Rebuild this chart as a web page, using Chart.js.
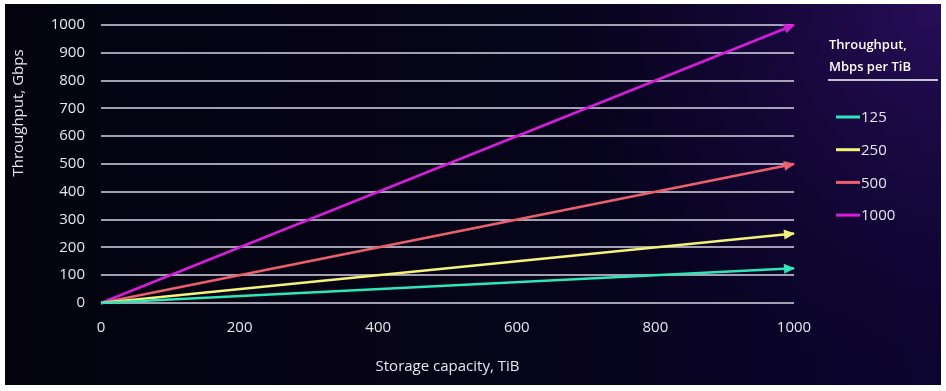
<!DOCTYPE html>
<html>
<head>
<meta charset="utf-8">
<script src="https://cdn.jsdelivr.net/npm/chart.js@4/dist/chart.umd.min.js"></script>
<style>
  html, body { margin: 0; padding: 0; background: #fff; }
  #wrap { width: 946px; height: 391px; }
</style>
</head>
<body>
<div id="wrap"><canvas id="throughputChart" width="946" height="391"></canvas></div>
<script>
// Data
const capacity = [0, 1000];            // Storage capacity, TiB
const rates = ['125', '250', '500', '1000']; // Mbps per TiB (legend labels)
const tput125 = [0, 125];              // Gbps
const tput250 = [0, 250];
const tput500 = [0, 500];
const tput1000 = [0, 1000];
const lineColors = ['#2ee6b6', '#f3f27a', '#ee5f6d', '#d51ddb'];

const textColor = '#e6e6ee';
const fontFamily = '"Open Sans", "DejaVu Sans", sans-serif';

function pts(values) {
  return capacity.map((c, i) => ({ x: c, y: values[i] }));
}

// dark gradient panel behind everything
const panelBackground = {
  id: 'panelBackground',
  beforeDraw(chart) {
    const ctx = chart.ctx;
    const x0 = 5, y0 = 4, x1 = 941, y1 = 385;
    ctx.save();
    const lin = ctx.createLinearGradient(x0, 0, x1, 0);
    lin.addColorStop(0, '#04030f');
    lin.addColorStop(0.55, '#060418');
    lin.addColorStop(1, '#0c0432');
    ctx.fillStyle = lin;
    ctx.fillRect(x0, y0, x1 - x0, y1 - y0);
    const rad = ctx.createRadialGradient(x1, y0, 0, x1, y0, 380);
    rad.addColorStop(0, 'rgba(42, 14, 92, 0.95)');
    rad.addColorStop(0.5, 'rgba(30, 10, 70, 0.5)');
    rad.addColorStop(1, 'rgba(20, 6, 50, 0)');
    ctx.fillStyle = rad;
    ctx.fillRect(x0, y0, x1 - x0, y1 - y0);
    ctx.restore();
  }
};

// arrowheads at the end of each line
const arrowHeads = {
  id: 'arrowHeads',
  afterDatasetsDraw(chart) {
    const ctx = chart.ctx;
    chart.data.datasets.forEach((ds, i) => {
      const meta = chart.getDatasetMeta(i);
      const n = meta.data.length;
      if (n < 2) return;
      const a = meta.data[n - 2], b = meta.data[n - 1];
      const ang = Math.atan2(b.y - a.y, b.x - a.x);
      const len = 10, half = 5;
      ctx.save();
      ctx.translate(b.x, b.y);
      ctx.rotate(ang);
      ctx.fillStyle = ds.borderColor;
      ctx.beginPath();
      ctx.moveTo(1, 0);
      ctx.lineTo(-len, -half);
      ctx.lineTo(-len, half);
      ctx.closePath();
      ctx.fill();
      ctx.restore();
    });
  }
};

// y title, legend title with underline, legend items
const sideTexts = {
  id: 'sideTexts',
  afterDraw(chart) {
    const ctx = chart.ctx;
    ctx.save();
    ctx.fillStyle = textColor;
    ctx.font = '15px ' + fontFamily;
    ctx.textAlign = 'center';
    ctx.textBaseline = 'middle';
    ctx.translate(19, 113);
    ctx.rotate(-Math.PI / 2);
    ctx.fillText('Throughput, Gbps', 0, 0);
    ctx.restore();

    ctx.save();
    ctx.fillStyle = '#ffffff';
    ctx.font = '600 13px ' + fontFamily;
    ctx.textAlign = 'left';
    ctx.textBaseline = 'middle';
    ctx.fillText('Throughput,', 829, 45);
    ctx.fillText('Mbps per TiB', 829, 67);
    ctx.strokeStyle = '#c4c4cc';
    ctx.lineWidth = 2;
    ctx.beginPath();
    ctx.moveTo(828, 80);
    ctx.lineTo(938, 80);
    ctx.stroke();

    ctx.font = '15px ' + fontFamily;
    ctx.fillStyle = textColor;
    chart.data.datasets.forEach((ds, i) => {
      const y = 117 + i * 32.7;
      ctx.strokeStyle = ds.borderColor;
      ctx.lineWidth = 3;
      ctx.beginPath();
      ctx.moveTo(836, y);
      ctx.lineTo(860, y);
      ctx.stroke();
      ctx.fillText(ds.label, 861, y + 1);
    });
    ctx.restore();
  }
};

const series = [tput125, tput250, tput500, tput1000];

new Chart(document.getElementById('throughputChart'), {
  type: 'line',
  data: {
    datasets: series.map((s, i) => ({
      label: rates[i],
      data: pts(s),
      borderColor: lineColors[i],
      backgroundColor: lineColors[i],
      borderWidth: 2.5,
      pointRadius: 0,
      tension: 0,
      clip: false
    }))
  },
  options: {
    responsive: false,
    animation: false,
    layout: { padding: { top: 22, right: 152, left: 0, bottom: 0 } },
    plugins: {
      legend: { display: false },
      tooltip: { enabled: false }
    },
    scales: {
      x: {
        type: 'linear',
        min: 0,
        max: 1000,
        ticks: {
          stepSize: 200,
          color: textColor,
          font: { family: fontFamily, size: 15 },
          padding: 8,
          maxRotation: 0,
          callback: v => String(v)
        },
        grid: { display: false },
        border: { display: false },
        title: {
          display: true,
          text: 'Storage capacity, TiB',
          color: textColor,
          font: { family: fontFamily, size: 15 },
          padding: { top: 0, bottom: 15 }
        },
        afterFit(scale) { scale.height = 88; }
      },
      y: {
        min: 0,
        max: 1000,
        ticks: {
          stepSize: 100,
          color: textColor,
          font: { family: fontFamily, size: 15 },
          padding: 16,
          callback: v => String(v)
        },
        grid: { color: 'rgba(190, 188, 205, 0.85)', lineWidth: 2, drawTicks: false },
        border: { display: false },
        afterFit(scale) { scale.width = 101; }
      }
    }
  },
  plugins: [panelBackground, arrowHeads, sideTexts]
});
</script>
</body>
</html>
